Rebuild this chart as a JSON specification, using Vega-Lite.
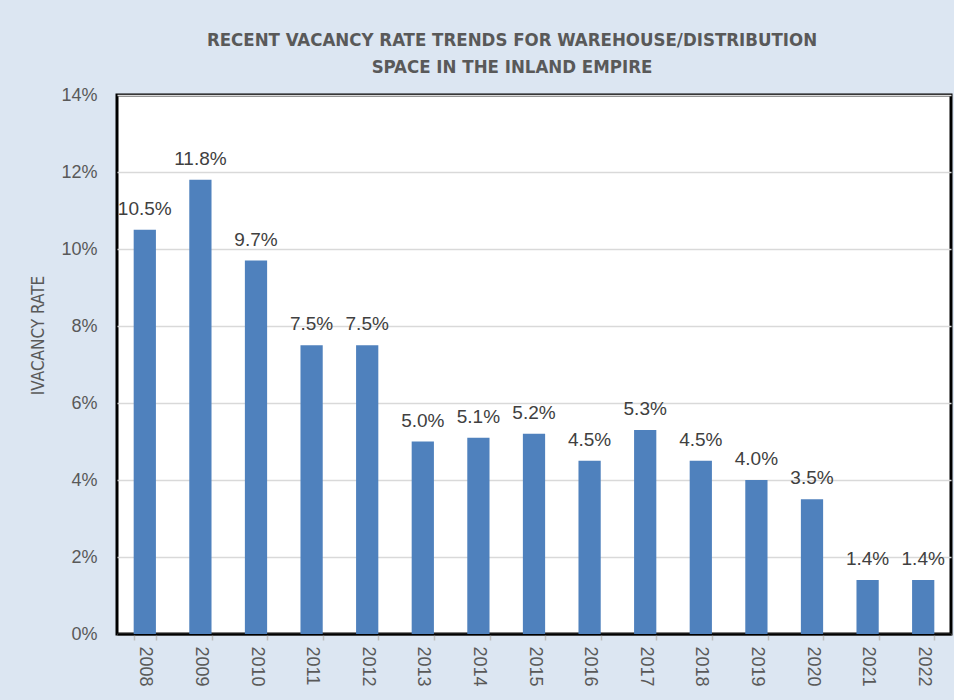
{
  "$schema": "https://vega.github.io/schema/vega-lite/v6.json",
  "width": 834,
  "height": 539,
  "autosize": {"type": "none"},
  "padding": {"left": 117, "top": 95, "right": 3, "bottom": 66},
  "background": "#dce6f2",
  "view": {"fill": "white", "stroke": "black", "strokeWidth": 3},
  "title": {
    "text": ["RECENT  VACANCY RATE TRENDS FOR WAREHOUSE/DISTRIBUTION", "SPACE IN THE INLAND EMPIRE"],
    "font": "'DejaVu Sans Condensed', 'Open Sans', sans-serif",
    "fontSize": 18.5,
    "fontWeight": "bold",
    "color": "#595959",
    "anchor": "middle",
    "dx": -22,
    "lineHeight": 27,
    "offset": 10
  },
  "data": {
    "values": [
      {"year": "2008", "rate": 0.105},
      {"year": "2009", "rate": 0.118},
      {"year": "2010", "rate": 0.097},
      {"year": "2011", "rate": 0.075},
      {"year": "2012", "rate": 0.075},
      {"year": "2013", "rate": 0.050},
      {"year": "2014", "rate": 0.051},
      {"year": "2015", "rate": 0.052},
      {"year": "2016", "rate": 0.045},
      {"year": "2017", "rate": 0.053},
      {"year": "2018", "rate": 0.045},
      {"year": "2019", "rate": 0.040},
      {"year": "2020", "rate": 0.035},
      {"year": "2021", "rate": 0.014},
      {"year": "2022", "rate": 0.014}
    ]
  },
  "encoding": {
    "x": {
      "field": "year",
      "type": "ordinal",
      "scale": {"paddingInner": 0.6, "paddingOuter": 0.3},
      "axis": {
        "title": null,
        "labelAngle": 90,
        "labelAlign": "left",
        "labelBaseline": "middle",
        "labelFont": "Liberation Sans",
        "labelFontSize": 18,
        "labelColor": "#595959",
        "labelPadding": 6,
        "tickBand": "extent",
        "tickColor": "#bfbfbf",
        "tickSize": 6,
        "tickWidth": 1.5,
        "domainColor": "black",
        "domainWidth": 2
      }
    },
    "y": {
      "field": "rate",
      "type": "quantitative",
      "scale": {"domain": [0, 0.14]},
      "axis": {
        "title": "IVACANCY RATE",
        "titleFont": "'DejaVu Sans Condensed', 'Open Sans', sans-serif",
        "titleFontSize": 17,
        "titleFontWeight": "normal",
        "titleColor": "#595959",
        "titlePadding": 13,
        "titleY": 240,
        "values": [0, 0.02, 0.04, 0.06, 0.08, 0.1, 0.12, 0.14],
        "format": ".0%",
        "labelFont": "Liberation Sans",
        "labelFontSize": 18,
        "labelColor": "#595959",
        "labelPadding": 20,
        "ticks": false,
        "domain": false,
        "gridColor": "#d9d9d9",
        "gridWidth": 1.5
      }
    }
  },
  "layer": [
    {"mark": {"type": "bar", "color": "#4f81bd"}},
    {
      "mark": {"type": "text", "baseline": "bottom", "dy": -11, "font": "Liberation Sans", "fontSize": 19, "color": "#404040"},
      "encoding": {"text": {"field": "rate", "type": "quantitative", "format": ".1%"}}
    }
  ]
}
